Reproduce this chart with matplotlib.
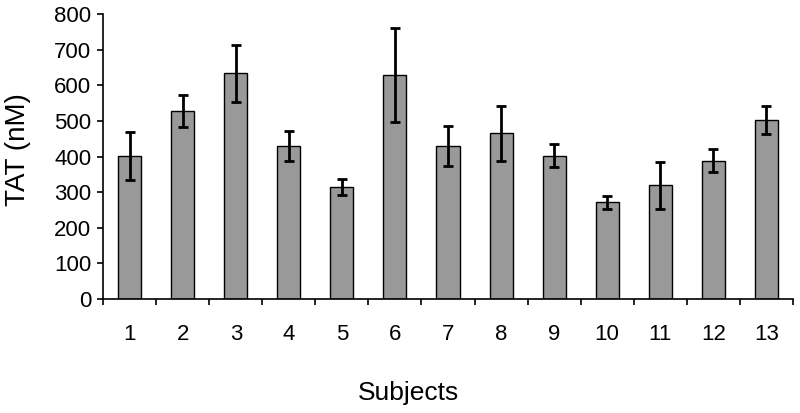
import matplotlib
matplotlib.use("Agg")
import matplotlib.pyplot as plt
import numpy as np

subjects = [str(i) for i in range(1, 14)]
tat_mean = [402, 528, 634, 430, 315, 629, 430, 465, 402, 271, 320, 388, 502]
tat_err = [68, 46, 80, 42, 22, 131, 56, 78, 32, 19, 66, 32, 39]

plt.rcParams["font.family"] = ["Liberation Sans", "DejaVu Sans"]

fig = plt.figure(figsize=(8, 4.13), dpi=100)
ax = fig.add_axes([0.129, 0.276, 0.862, 0.690])

x = np.arange(len(subjects))
ax.bar(x, tat_mean, width=0.435, color="#999999", edgecolor="black", linewidth=1,
       yerr=tat_err, capsize=3.8,
       error_kw=dict(ecolor="black", elinewidth=2, capthick=2))

ax.set_xlim(-0.5, len(subjects) - 0.5)
ax.set_ylim(0, 800)
ax.set_yticks(np.arange(0, 801, 100))
ax.set_xticks(x)
ax.set_xticklabels(subjects)
ax.set_xticks(np.arange(-0.5, len(subjects)), minor=True)
ax.tick_params(axis="x", which="major", length=0, pad=18, labelsize=16)
ax.tick_params(axis="x", which="minor", length=4.5, width=1.2, direction="out")
ax.tick_params(axis="y", length=4.5, width=1.2, direction="out", labelsize=16, pad=4)

for side in ("top", "right"):
    ax.spines[side].set_visible(False)
for side in ("left", "bottom"):
    ax.spines[side].set_linewidth(1.2)

ax.set_ylabel("TAT (nM)", fontsize=20, va="center")
ax.yaxis.set_label_coords(-0.124, 0.523)
ax.set_xlabel("Subjects", fontsize=19, va="center")
ax.xaxis.set_label_coords(0.442, -0.33)

fig.savefig("out.png", dpi=100)
